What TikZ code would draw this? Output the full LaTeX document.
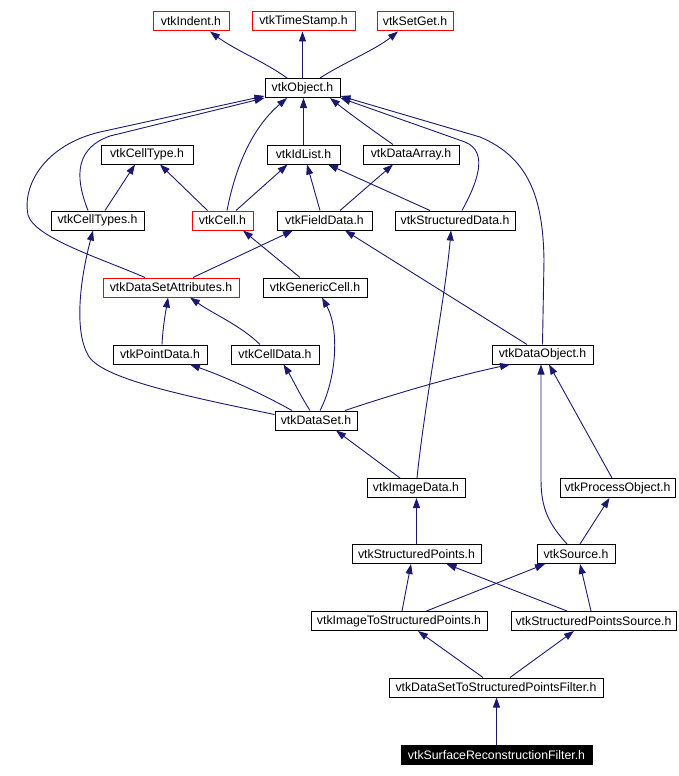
\documentclass[tikz,border=0pt]{standalone}
\usepackage{fontspec}
\setmainfont{Liberation Sans}
\usetikzlibrary{arrows.meta}
\definecolor{edgecol}{HTML}{191970}
\begin{document}
\begin{tikzpicture}[x=1pt,y=-1pt,
  box/.style={draw=black, line width=1pt, minimum height=19pt, inner sep=0pt, font=\fontsize{12.3}{14}\selectfont, text=black},
  redbox/.style={box, draw=red},
  rootbox/.style={box, fill=black, text=white},
  edge/.style={draw=edgecol, line width=0.9pt, -{Triangle[length=10pt,width=7pt]}}]
\path[use as bounding box] (0,0) rectangle (678,776);

\node[redbox, minimum width=76pt] (indent) at (191,21.5) {vtkIndent.h};
\node[redbox, minimum width=103pt] (timestamp) at (303.5,21.5) {vtkTimeStamp.h};
\node[redbox, minimum width=76pt] (setget) at (415,21.5) {vtkSetGet.h};
\node[box, minimum width=75pt] (object) at (302.5,88) {vtkObject.h};
\node[box, minimum width=92pt] (celltype) at (147,154.5) {vtkCellType.h};
\node[box, minimum width=73pt] (idlist) at (303.5,154.5) {vtkIdList.h};
\node[box, minimum width=96pt] (dataarray) at (411,154.5) {vtkDataArray.h};
\node[box, minimum width=93pt] (celltypes) at (97.5,220.5) {vtkCellTypes.h};
\node[redbox, minimum width=61pt] (cell) at (222.5,220.5) {vtkCell.h};
\node[box, minimum width=95pt] (fielddata) at (324.5,220.5) {vtkFieldData.h};
\node[box, minimum width=120pt] (structureddata) at (455,220.5) {vtkStructuredData.h};
\node[redbox, minimum width=136pt] (dsattr) at (171,287.5) {vtkDataSetAttributes.h};
\node[box, minimum width=104pt] (genericcell) at (315,287.5) {vtkGenericCell.h};
\node[box, minimum width=94pt] (pointdata) at (160,354.5) {vtkPointData.h};
\node[box, minimum width=88pt] (celldata) at (275,354.5) {vtkCellData.h};
\node[box, minimum width=101pt] (dataobject) at (542.5,354.5) {vtkDataObject.h};
\node[box, minimum width=82pt] (dataset) at (316,420.5) {vtkDataSet.h};
\node[box, minimum width=98pt] (imagedata) at (416,488) {vtkImageData.h};
\node[box, minimum width=115pt] (processobject) at (617.5,488) {vtkProcessObject.h};
\node[box, minimum width=129pt] (structuredpoints) at (416.5,554) {vtkStructuredPoints.h};
\node[box, minimum width=78pt] (source) at (576,554) {vtkSource.h};
\node[box, minimum width=176pt] (imagetosp) at (399,621) {vtkImageToStructuredPoints.h};
\node[box, minimum width=165pt] (spsource) at (593.5,621) {vtkStructuredPointsSource.h};
\node[box, minimum width=214pt] (dstospf) at (496,687.5) {vtkDataSetToStructuredPointsFilter.h};
\node[rootbox, minimum width=191pt] (surface) at (496.5,755) {vtkSurfaceReconstructionFilter.h};

% vtkObject includes
\draw[edge] ([xshift=-15.5pt]object.north) .. controls (265,62) and (235,50) .. ([xshift=19pt]indent.south);
\draw[edge] (object.north) -- (object.north |- timestamp.south);
\draw[edge] ([xshift=17.5pt]object.north) .. controls (345,62) and (375,50) .. ([xshift=-17pt]setget.south);
% into vtkObject
\draw[edge] (idlist.north) -- (idlist.north |- object.south);
\draw[edge] ([xshift=4.5pt]cell.north) .. controls (235,170) and (250,130) .. ([xshift=-15.5pt]object.south);
\draw[edge] ([xshift=-9.5pt]celltypes.north) .. controls (78,185) and (70,150) .. (110,136) -- (object.south west);
\draw[edge] ([xshift=-26pt]dsattr.north) .. controls (100,258) and (35,238) .. (28,215) .. controls (22,185) and (45,145) .. (100,132) -- ([yshift=2pt]object.south west);
\draw[edge] ([xshift=-18pt]dataarray.north) .. controls (365,125) and (345,110) .. ([xshift=27.5pt]object.south);
\draw[edge] ([xshift=7pt]structureddata.north) .. controls (476,185) and (490,152) .. (465,142) -- (object.south east);
\draw[edge] (dataobject.north) -- (544,260) .. controls (543,200) and (530,158) .. (480,137) -- ([yshift=2pt]object.south east);
% level 2-3
\draw[edge] ([xshift=7.5pt]celltypes.north) -- ([xshift=-12pt]celltype.south);
\draw[edge] ([xshift=-15pt]cell.north) -- ([xshift=13pt]celltype.south);
\draw[edge] ([xshift=13.5pt]cell.north) -- ([xshift=-16pt]idlist.south);
\draw[edge] ([xshift=-4.5pt]fielddata.north) -- ([xshift=3.5pt]idlist.south);
\draw[edge] ([xshift=-25pt]structureddata.north) -- ([xshift=24.5pt]idlist.south);
\draw[edge] ([xshift=15.5pt]fielddata.north) -- ([xshift=-18pt]dataarray.south);
% level 4
\draw[edge] ([xshift=22pt]dsattr.north) -- ([xshift=-31.5pt]fielddata.south);
\draw[edge] ([xshift=-15pt]genericcell.north) -- ([xshift=20.5pt]cell.south);
\draw[edge] ([xshift=-15.5pt]dataobject.north) -- ([xshift=20.5pt]fielddata.south);
\draw[edge] ([xshift=1pt]imagedata.north) .. controls (425,400) and (445,300) .. ([xshift=-4pt]structureddata.south);
% level 5
\draw[edge] ([xshift=2pt]pointdata.north) .. controls (163,325) and (166,310) .. ([xshift=-3pt]dsattr.south);
\draw[edge] ([xshift=-15pt]celldata.north) .. controls (240,325) and (215,315) .. ([xshift=19pt]dsattr.south);
% vtkDataSet
\draw[edge] ([xshift=-24pt]dataset.north) .. controls (255,390) and (220,375) .. ([xshift=30pt]pointdata.south);
\draw[edge] ([xshift=-6pt]dataset.north) .. controls (300,395) and (292,378) .. ([xshift=8.5pt]celldata.south);
\draw[edge] ([xshift=4pt]dataset.north) .. controls (336,380) and (340,330) .. ([xshift=7pt]genericcell.south);
\draw[edge] ([yshift=6pt]dataset.west) .. controls (180,395) and (100,378) .. (88,355) .. controls (74,330) and (80,280) .. ([xshift=-4.5pt]celltypes.south);
\draw[edge] ([xshift=29pt]dataset.north) .. controls (400,392) and (460,375) .. ([xshift=-32.5pt]dataobject.south);
% lower
\draw[edge] ([xshift=-16pt]imagedata.north) -- ([xshift=20pt]dataset.south);
\draw[edge] ([xshift=-5.5pt]processobject.north) -- ([xshift=6.5pt]dataobject.south);
\draw[edge] ([xshift=-9pt]source.north) .. controls (550,525) and (541,510) .. (541,480) -- ([xshift=-1.5pt]dataobject.south);
\draw[edge] ([xshift=4pt]source.north) -- ([xshift=-8pt]processobject.south);
\draw[edge] (structuredpoints.north) -- (structuredpoints.north |- imagedata.south);
\draw[edge] ([xshift=3pt]imagetosp.north) -- ([xshift=-5.5pt]structuredpoints.south);
\draw[edge] ([xshift=27.5pt]imagetosp.north) -- ([xshift=-31pt]source.south);
\draw[edge] ([xshift=-26.5pt]spsource.north) -- ([xshift=30pt]structuredpoints.south);
\draw[edge] ([xshift=-2.5pt]spsource.north) -- ([xshift=4pt]source.south);
\draw[edge] ([xshift=-13pt]dstospf.north) -- ([xshift=19pt]imagetosp.south);
\draw[edge] ([xshift=14pt]dstospf.north) -- ([xshift=-19.5pt]spsource.south);
\draw[edge] (surface.north) -- (surface.north |- dstospf.south);
\end{tikzpicture}
\end{document}
